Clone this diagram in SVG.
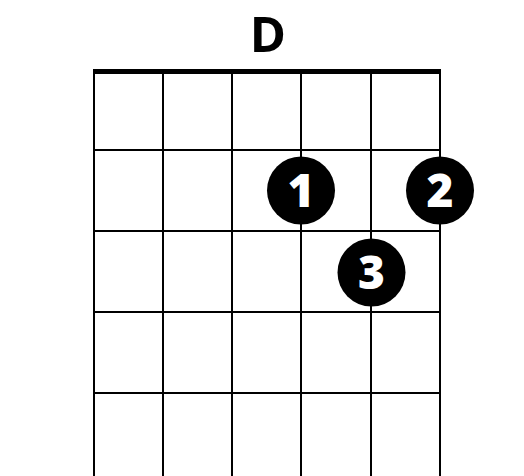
<svg xmlns="http://www.w3.org/2000/svg" width="524" height="476" viewBox="0 0 524 476">
<style>
.s{stroke:#000;stroke-width:2;fill:none}
.dot{fill:#000}
.n{fill:#fff;font-family:"Open Sans","DejaVu Sans",sans-serif;font-weight:800;font-size:46px;text-anchor:middle}
.t{fill:#000;font-family:"Open Sans","DejaVu Sans",sans-serif;font-weight:bold;font-size:49px;text-anchor:middle}
</style>
<rect width="524" height="476" fill="#fff"/>
<g id="title"><text class="t" x="268" y="52">D</text></g>
<g id="grid">
<line x1="93" y1="71.5" x2="441" y2="71.5" stroke="#000" stroke-width="5"/>
<path class="s" d="M94 72V476M163 72V476M232 72V476M301 72V476M371 72V476M440 72V476M94 150H440M94 231H440M94 312H440M94 393H440"/>
</g>
<g id="finger1"><circle class="dot" cx="301" cy="190.5" r="34"/><text class="n" x="301" y="207">1</text></g>
<g id="finger2"><circle class="dot" cx="440" cy="190.5" r="34"/><text class="n" x="440" y="207">2</text></g>
<g id="finger3"><circle class="dot" cx="371.5" cy="272.5" r="34"/><text class="n" x="371.5" y="289">3</text></g>
</svg>
